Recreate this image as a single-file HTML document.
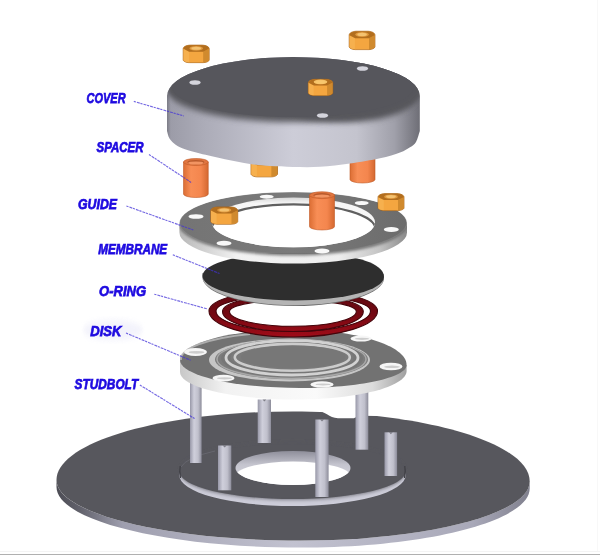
<!DOCTYPE html>
<html><head><meta charset="utf-8">
<style>
html,body{margin:0;padding:0;background:#fff;}
svg{display:block;}
text{font-family:"Liberation Sans",sans-serif;font-weight:bold;font-style:italic;fill:#1e0ae0;stroke:#1e0ae0;stroke-width:0.75px;font-size:15.5px;}
</style></head>
<body>
<svg width="600" height="556" viewBox="0 0 600 556">
<defs>
  <linearGradient id="baseSide" x1="0" x2="1" y1="0" y2="0">
    <stop offset="0" stop-color="#4c4c54"/>
    <stop offset="0.05" stop-color="#62626c"/>
    <stop offset="0.14" stop-color="#9e9eae"/>
    <stop offset="0.5" stop-color="#c2c2d0"/>
    <stop offset="0.88" stop-color="#a8a8b8"/>
    <stop offset="1" stop-color="#80808e"/>
  </linearGradient>
  <linearGradient id="ringSide" x1="0" x2="1" y1="0" y2="0">
    <stop offset="0" stop-color="#8e8e9a"/>
    <stop offset="0.35" stop-color="#c8c8d2"/>
    <stop offset="0.7" stop-color="#c4c4ce"/>
    <stop offset="1" stop-color="#9c9ca8"/>
  </linearGradient>
  <linearGradient id="holeWall" x1="0" x2="0" y1="0" y2="1">
    <stop offset="0" stop-color="#8e8e9a"/>
    <stop offset="0.4" stop-color="#c4c4ce"/>
    <stop offset="1" stop-color="#dcdce4"/>
  </linearGradient>
  <linearGradient id="bolt" x1="0" x2="1" y1="0" y2="0">
    <stop offset="0" stop-color="#9898a8"/>
    <stop offset="0.35" stop-color="#cfcfdb"/>
    <stop offset="0.7" stop-color="#c0c0cc"/>
    <stop offset="1" stop-color="#8c8c9a"/>
  </linearGradient>
  <linearGradient id="diskSide" x1="0" x2="1" y1="0" y2="0">
    <stop offset="0" stop-color="#c8c8c8"/>
    <stop offset="0.2" stop-color="#f2f2f2"/>
    <stop offset="0.6" stop-color="#fafafa"/>
    <stop offset="0.85" stop-color="#dcdcdc"/>
    <stop offset="1" stop-color="#a0a0a0"/>
  </linearGradient>
  <linearGradient id="diskSideV" x1="0" x2="0" y1="0" y2="1">
    <stop offset="0" stop-color="#ffffff" stop-opacity="0"/>
    <stop offset="0.75" stop-color="#ffffff" stop-opacity="0"/>
    <stop offset="1" stop-color="#a0a0a0" stop-opacity="0.5"/>
  </linearGradient>
  <linearGradient id="guideSide" x1="0" x2="1" y1="0" y2="0">
    <stop offset="0" stop-color="#b8b8b8"/>
    <stop offset="0.25" stop-color="#f2f2f2"/>
    <stop offset="0.7" stop-color="#eeeeee"/>
    <stop offset="0.88" stop-color="#c4c4c4"/>
    <stop offset="1" stop-color="#8a8a8a"/>
  </linearGradient>
  <linearGradient id="guideTop" x1="0" x2="1" y1="0" y2="0">
    <stop offset="0" stop-color="#747474"/>
    <stop offset="0.5" stop-color="#7a7a7a"/>
    <stop offset="1" stop-color="#6c6c6c"/>
  </linearGradient>
  <linearGradient id="guideWall" x1="0" x2="0" y1="0" y2="1">
    <stop offset="0" stop-color="#d8d8d8"/>
    <stop offset="0.12" stop-color="#f6f6f6"/>
    <stop offset="1" stop-color="#f8f8f8"/>
  </linearGradient>
  <linearGradient id="coverSide" x1="0" x2="1" y1="0" y2="0">
    <stop offset="0" stop-color="#7c7c86"/>
    <stop offset="0.015" stop-color="#9c9ca8"/>
    <stop offset="0.15" stop-color="#acacb8"/>
    <stop offset="0.5" stop-color="#cdcdd8"/>
    <stop offset="0.75" stop-color="#c4c4ce"/>
    <stop offset="0.9" stop-color="#a0a0aa"/>
    <stop offset="1" stop-color="#6e6e76"/>
  </linearGradient>
  <linearGradient id="spacer" x1="0" x2="1" y1="0" y2="0">
    <stop offset="0" stop-color="#dc6e34"/>
    <stop offset="0.3" stop-color="#f88e56"/>
    <stop offset="0.7" stop-color="#f4864e"/>
    <stop offset="1" stop-color="#d46830"/>
  </linearGradient>
  <linearGradient id="ringRed" gradientUnits="userSpaceOnUse" x1="0" x2="0" y1="292" y2="337">
    <stop offset="0" stop-color="#5e0810"/>
    <stop offset="0.5" stop-color="#740812"/>
    <stop offset="1" stop-color="#a00c18"/>
  </linearGradient>
  <filter id="soft" x="-5%" y="-20%" width="110%" height="140%"><feGaussianBlur stdDeviation="1.6 3"/></filter>
  <filter id="soft2" x="-5%" y="-20%" width="110%" height="140%"><feGaussianBlur stdDeviation="1 2"/></filter>
  <filter id="soft3" x="-5%" y="-20%" width="110%" height="140%"><feGaussianBlur stdDeviation="1.2 1.8"/></filter>
  <filter id="soft1" x="-5%" y="-20%" width="110%" height="140%"><feGaussianBlur stdDeviation="0.6"/></filter>
  <g id="nut">
    <path d="M0,4.2 C0,2.2 3,0.8 7,0.6 L19,0.6 C23,0.8 26,2.2 26,4.2 L26,15 C26,16.2 23,17.6 20,17.6 L6,17.6 C3,17.6 0,16.2 0,15 Z" fill="#eca03c" stroke="#a46016" stroke-width="0.7"/>
    <path d="M0.3,4.2 L6,7 L6,17.3 C3,17.3 0.3,16 0.3,15 Z" fill="#f6b04e"/>
    <path d="M5.8,7 L20.2,7 L20.2,17.3 L5.8,17.3 Z" fill="#f4a640"/>
    <path d="M20,7 L25.7,4.2 L25.7,15 C25.7,16 23,17.3 20,17.3 Z" fill="#d08a2e"/>
    <path d="M0.3,4.2 C0.3,2.2 3,0.9 7,0.8 L19,0.8 C23,0.9 25.7,2.2 25.7,4.2 L20,7.1 L6,7.1 Z" fill="#b26e1e"/>
    <ellipse cx="13" cy="3.7" rx="6.8" ry="2.3" fill="#e09a40"/>
    <ellipse cx="13" cy="3.6" rx="4.8" ry="1.5" fill="#f4c270"/>
  </g>
  <g id="spacerG">
    <path d="M0,3.5 L0,35.5 A12.5,3.5 0 0 0 25,35.5 L25,3.5 Z" fill="url(#spacer)" stroke="#c05a26" stroke-width="0.6"/>
    <ellipse cx="12.5" cy="3.5" rx="12.5" ry="3.5" fill="#e07640" stroke="#c05a26" stroke-width="0.6"/>
    <ellipse cx="12.5" cy="3.7" rx="8.6" ry="2.3" fill="#b85a2c"/>
    <ellipse cx="12.5" cy="4.5" rx="7.8" ry="1.6" fill="#f29462"/>
  </g>
  <clipPath id="baseHoleClip"><ellipse cx="293" cy="468" rx="57.5" ry="17"/></clipPath>
  <clipPath id="guideClip"><path d="M179.4,223 A113.8,31 0 0 1 407,223 L407,232.5 A113.8,31 0 0 1 179.4,232.5 Z"/></clipPath>
  <clipPath id="guideHoleClip"><ellipse cx="293.5" cy="222.4" rx="81.5" ry="24.9"/></clipPath>
  <clipPath id="coverClip"><path d="M167,96 L167.0,131.0 C167.4,132.2 168.0,136.2 169.5,138.5 C171.0,140.8 173.4,143.2 176.0,145.0 C178.6,146.8 181.0,147.9 185.0,149.3 C189.0,150.7 193.3,151.8 200.0,153.5 C206.7,155.2 216.7,157.4 225.0,159.2 C233.3,160.9 242.5,162.9 250.0,164.0 C257.5,165.1 262.8,165.5 270.0,166.0 C277.2,166.5 284.7,166.9 293.0,167.0 C301.3,167.1 310.5,167.4 320.0,166.8 C329.5,166.2 340.0,164.9 350.0,163.5 C360.0,162.1 371.7,160.1 380.0,158.3 C388.3,156.5 395.0,154.3 400.0,152.5 C405.0,150.7 407.3,149.1 410.0,147.3 C412.7,145.6 414.4,144.7 416.0,142.0 C417.6,139.3 419.2,132.8 419.8,131.0  L419.8,96 A126.4,39 0 0 0 167,96 Z"/></clipPath>
</defs>

<!-- ================= BASE PLATE ================= -->
<path d="M529.70,481.40 C529.70,514.04 426.86,540.50 300.00,540.50 C165.51,540.50 56.50,513.41 56.50,480.00 L56.50,487.00 C56.50,520.41 165.51,547.50 300.00,547.50 C426.86,547.50 529.70,521.04 529.70,488.40 Z" fill="url(#baseSide)"/>
<path d="M56.50,480.00 C56.50,442.17 162.38,411.50 293.00,411.50 C423.73,411.50 529.70,442.79 529.70,481.40 C529.70,514.04 426.86,540.50 300.00,540.50 C165.51,540.50 56.50,513.41 56.50,480.00 Z" fill="#57575d"/>
<!-- notch near back -->
<path d="M316,404 L316,410.6 C325,410.6 329,418.3 338,418.3 L353,418.3 C356,418.3 356.5,415.8 359,415.8 L382,416 L382,404 Z" fill="#ffffff"/>
<!-- raised ring side -->
<path d="M179.3,471.3 A113.2,27.7 0 0 0 405.7,471.3 L405.7,475.4 A113.2,30.6 0 0 1 179.3,475.4 Z" fill="#cdcdd9"/>
<ellipse cx="292.5" cy="471.3" rx="113.2" ry="27.7" fill="#57575d" filter="url(#soft2)"/>
<ellipse cx="292.5" cy="470.8" rx="112.5" ry="26.7" fill="#57575d"/>
<path d="M181,467 A113,27 0 0 1 215,451" fill="none" stroke="#66666e" stroke-width="1"/>
<path d="M180.2,466 Q179.2,471 180.5,478" fill="none" stroke="#3e3e44" stroke-width="1.2"/>
<path d="M404.8,466 Q405.8,471 404.5,478" fill="none" stroke="#3e3e44" stroke-width="1.2"/>
<!-- hole -->
<ellipse cx="293" cy="468" rx="57.5" ry="17" fill="url(#holeWall)"/>
<ellipse cx="293" cy="476.5" rx="58" ry="15" fill="#ffffff" clip-path="url(#baseHoleClip)"/>

<!-- ================= STUDBOLTS ================= -->
<g fill="url(#bolt)">
<rect x="257.7" y="399.5" width="13.3" height="43.5"/>
<rect x="384.5" y="432.3" width="12.6" height="43.7"/>
<rect x="190" y="380" width="11.6" height="83"/>
<rect x="355.5" y="380" width="12.8" height="69.7"/>
<rect x="218" y="445.5" width="13.3" height="44.8"/>
<rect x="315.3" y="419.5" width="13.3" height="77.5"/>
</g>
<g fill="#5e5e66" opacity="0.7">
<path d="M262.5,399.5 L264.3,401.5 L266.3,399.5 Z"/>
<path d="M389,432.3 L390.8,434.3 L392.8,432.3 Z"/>
<path d="M222.6,445.5 L224.6,447.5 L226.6,445.5 Z"/>
<path d="M320,419.5 L322,421.5 L324,419.5 Z"/>
</g>

<!-- ================= DISK ================= -->
<path d="M180.00,360.00 L180.00,372.00 C180.00,387.19 231.93,399.50 296.00,399.50 C357.08,399.50 406.60,386.74 406.60,371.00 L406.60,365.00 L180.00,355.00 Z" fill="url(#diskSide)"/>
<path d="M180.00,360.00 C180.00,343.15 230.59,329.50 293.00,329.50 C355.74,329.50 406.60,345.39 406.60,365.00 C406.60,377.70 358.88,388.00 300.00,388.00 C233.72,388.00 180.00,375.46 180.00,360.00 Z" fill="#727272"/>
<path d="M181,360 A112,27 0 0 1 250,334" fill="none" stroke="#c8c8c8" stroke-width="2" opacity="0.7" filter="url(#soft1)"/>
<g filter="url(#soft1)">
<ellipse cx="289.5" cy="360" rx="80.5" ry="21.5" fill="#c6c6c6"/>
<ellipse cx="291.5" cy="359.4" rx="76.5" ry="19.8" fill="#7c7c7c"/>
<ellipse cx="291.5" cy="359.2" rx="74.5" ry="19.2" fill="none" stroke="#a8a8a8" stroke-width="1.5"/>
<ellipse cx="292" cy="358.3" rx="71" ry="18.6" fill="#767676"/>
<ellipse cx="292" cy="357.8" rx="66" ry="17.2" fill="none" stroke="#d2d2d2" stroke-width="2.8"/>
<ellipse cx="292.3" cy="357.4" rx="61.5" ry="15.2" fill="#7a7a7a"/>
<ellipse cx="292.3" cy="357.3" rx="57.5" ry="13.4" fill="none" stroke="#cccccc" stroke-width="2.6"/>
<ellipse cx="293.25" cy="356.9" rx="52.25" ry="11.15" fill="#777777"/>
</g>
<g fill="#f6f6f6" filter="url(#soft1)">
<ellipse cx="195.5" cy="352" rx="11.5" ry="4"/>
<ellipse cx="223.5" cy="378.2" rx="11" ry="3.4"/>
<ellipse cx="322" cy="384.4" rx="11.6" ry="3.2"/>
<ellipse cx="391" cy="366.5" rx="11.5" ry="3.8"/>
<ellipse cx="361" cy="338.6" rx="10.5" ry="3"/>
</g>
<g fill="#c4c4c4" opacity="0.8">
<ellipse cx="196.5" cy="352.3" rx="8" ry="1.4"/>
<ellipse cx="224.5" cy="378.3" rx="7.5" ry="1.1"/>
<ellipse cx="323" cy="384.4" rx="7.5" ry="1"/>
<ellipse cx="392" cy="366.8" rx="8" ry="1.3"/>
<ellipse cx="362" cy="338.8" rx="7" ry="1.1"/>
</g>

<!-- ================= O-RING ================= -->
<path fill-rule="evenodd" fill="url(#ringRed)" stroke="#44040a" stroke-width="1.1" d="M209.00,311 A84.25,21.5 0 0 1 377.50,311 A84.25,26 0 0 1 209.00,311 Z M216.00,311 A77.25,16 0 0 1 370.50,311 A77.25,20.5 0 0 1 216.00,311 Z"/>
<path fill-rule="evenodd" fill="url(#ringRed)" stroke="#44040a" stroke-width="1.1" d="M222.50,311.5 A70.4,16.5 0 0 1 363.30,311.5 A70.4,20 0 0 1 222.50,311.5 Z M229.50,311.5 A63.4,11.5 0 0 1 356.30,311.5 A63.4,14.8 0 0 1 229.50,311.5 Z"/>

<!-- ================= MEMBRANE ================= -->
<path d="M202.50,277.20 C202.50,293.11 243.91,306.00 295.00,306.00 C344.15,306.00 384.00,293.55 384.00,278.20 L384,274 L202.5,273 Z" fill="#6a6a6a"/>
<path d="M202.50,276.80 C202.50,292.49 243.91,305.20 295.00,305.20 C344.15,305.20 384.00,292.93 384.00,277.80 L384,274 L202.5,273 Z" fill="#b4b4b4"/>
<path d="M202.50,276.00 C202.50,263.02 243.02,252.50 293.00,252.50 C349.42,252.50 384.00,261.81 384.00,277.00 C384.00,289.92 344.15,300.40 295.00,300.40 C243.91,300.40 202.50,289.48 202.50,276.00 Z" fill="#2e2e2e"/>

<!-- ================= GUIDE ================= -->
<path d="M179.4,223 A113.8,31 0 0 0 407,223 L407,232.5 A113.8,31 0 0 1 179.4,232.5 Z" fill="url(#guideSide)"/>
<g clip-path="url(#guideClip)">
<ellipse cx="293.2" cy="224" rx="114.5" ry="31.5" fill="url(#guideTop)" filter="url(#soft3)"/>
<ellipse cx="293.2" cy="222.6" rx="113" ry="30.4" fill="url(#guideTop)"/>
</g>
<ellipse cx="293.5" cy="222.4" rx="81.5" ry="24.9" fill="url(#guideWall)"/>
<ellipse cx="293.5" cy="229.2" rx="82" ry="24.9" fill="#ffffff" stroke="#606060" stroke-width="2.2" clip-path="url(#guideHoleClip)"/>
<g fill="#f8f8f8">
<ellipse cx="196" cy="216.5" rx="7.5" ry="2.3"/>
<ellipse cx="224" cy="243.3" rx="7.5" ry="2.5"/>
<ellipse cx="322" cy="251" rx="7.5" ry="2.5"/>
<ellipse cx="391.3" cy="229.4" rx="7.5" ry="2.5"/>
<ellipse cx="266.7" cy="196.7" rx="7" ry="2"/>
<ellipse cx="361.7" cy="203" rx="7" ry="2"/>
</g>

<!-- parts on guide -->
<use href="#nut" transform="translate(210.7,206.3) scale(1.04,1.02)"/>
<use href="#nut" transform="translate(378,193) scale(1,1)"/>
<use href="#spacerG" transform="translate(309.5,191.75) scale(1,0.98)"/>

<!-- under cover -->
<use href="#nut" transform="translate(251,157.5) scale(1.02,1.1)"/>
<use href="#spacerG" transform="translate(350,144)"/>
<use href="#spacerG" transform="translate(183.5,158.5) scale(0.99,1)"/>

<!-- ================= COVER ================= -->
<path d="M167,96 L167.0,131.0 C167.4,132.2 168.0,136.2 169.5,138.5 C171.0,140.8 173.4,143.2 176.0,145.0 C178.6,146.8 181.0,147.9 185.0,149.3 C189.0,150.7 193.3,151.8 200.0,153.5 C206.7,155.2 216.7,157.4 225.0,159.2 C233.3,160.9 242.5,162.9 250.0,164.0 C257.5,165.1 262.8,165.5 270.0,166.0 C277.2,166.5 284.7,166.9 293.0,167.0 C301.3,167.1 310.5,167.4 320.0,166.8 C329.5,166.2 340.0,164.9 350.0,163.5 C360.0,162.1 371.7,160.1 380.0,158.3 C388.3,156.5 395.0,154.3 400.0,152.5 C405.0,150.7 407.3,149.1 410.0,147.3 C412.7,145.6 414.4,144.7 416.0,142.0 C417.6,139.3 419.2,132.8 419.8,131.0  L419.8,96 A126.4,39 0 0 0 167,96 Z" fill="url(#coverSide)"/>
<g clip-path="url(#coverClip)">
  <ellipse cx="293" cy="89.5" rx="126" ry="32.5" fill="#56565c" filter="url(#soft)"/>
  <ellipse cx="345" cy="91" rx="76" ry="31" fill="#56565c" filter="url(#soft)"/>
  <ellipse cx="293" cy="87" rx="121" ry="30" fill="#56565c"/>
</g>
<g fill="#d4d4dc" filter="url(#soft1)">
<ellipse cx="195" cy="82.5" rx="5.6" ry="2.3"/>
<ellipse cx="362.5" cy="68.5" rx="5.6" ry="2.3"/>
<ellipse cx="322.5" cy="115.5" rx="5.6" ry="2.3"/>
</g>

<!-- top nuts -->
<use href="#nut" transform="translate(183.2,44.5) scale(1.0,1.03)"/>
<use href="#nut" transform="translate(349.2,30.6) scale(0.99,1.08)"/>
<use href="#nut" transform="translate(308.3,78.7) scale(0.94,0.96)"/>
<ellipse cx="320.5" cy="81.8" rx="6.8" ry="2.3" fill="#f8c86e" opacity="0.9"/>

<!-- ================= LABELS ================= -->
<ellipse cx="113" cy="330" rx="30" ry="10" fill="#eeeefa" opacity="0.7" filter="url(#soft)"/>
<g stroke="#4232d8" stroke-width="1.15" opacity="0.72" stroke-dasharray="2.2 1 3 0.7">
  <line x1="133.8" y1="101.4" x2="184" y2="116"/>
  <line x1="149" y1="154.5" x2="192" y2="183"/>
  <line x1="126.4" y1="206" x2="193.3" y2="230"/>
  <line x1="172.8" y1="254.8" x2="219.5" y2="273.5"/>
  <line x1="154.3" y1="294.2" x2="207.5" y2="309"/>
  <line x1="126" y1="333" x2="190.7" y2="360.3"/>
  <line x1="139.9" y1="385" x2="194.6" y2="418.6"/>
</g>
<g opacity="0.995">
<text x="86.6" y="103.4" textLength="39" lengthAdjust="spacingAndGlyphs">COVER</text>
<text x="96.5" y="151.8" textLength="47" lengthAdjust="spacingAndGlyphs">SPACER</text>
<text x="78" y="209.1" textLength="39" lengthAdjust="spacingAndGlyphs">GUIDE</text>
<text x="98.2" y="254.2" textLength="69" lengthAdjust="spacingAndGlyphs">MEMBRANE</text>
<text x="99.1" y="296.1" textLength="47" lengthAdjust="spacingAndGlyphs">O-RING</text>
<text x="90.3" y="336.1" textLength="31.2" lengthAdjust="spacingAndGlyphs">DISK</text>
<text x="74.6" y="388.6" textLength="63.6" lengthAdjust="spacingAndGlyphs">STUDBOLT</text>

</g>
<line x1="0" y1="551.5" x2="600" y2="551.5" stroke="#f4f4f4" stroke-width="1"/>
<line x1="0" y1="554.5" x2="600" y2="554.5" stroke="#b0b0b0" stroke-width="1.2"/>
<line x1="597.5" y1="0" x2="597.5" y2="551" stroke="#f8f8f8" stroke-width="1"/>
</svg>
</body></html>
